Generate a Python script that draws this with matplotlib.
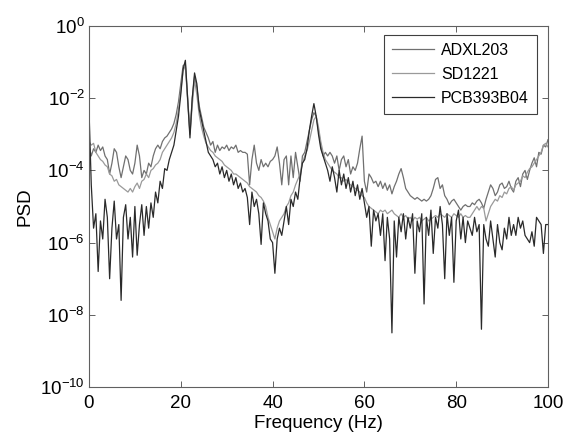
import numpy as np
import matplotlib
matplotlib.use("Agg")
import matplotlib.pyplot as plt
from matplotlib.ticker import NullLocator, FixedLocator

plt.rcParams['font.family'] = ['Liberation Sans', 'DejaVu Sans']
plt.rcParams['mathtext.fontset'] = 'custom'
plt.rcParams['mathtext.rm'] = 'Liberation Sans'
plt.rcParams['mathtext.it'] = 'Liberation Sans'

# Frequency grid (Hz), 0.5 Hz resolution
freq = np.arange(0, 100.5, 0.5)

series_names = ["ADXL203", "SD1221", "PCB393B04"]

# PSD values, stored as log10(PSD)
adxl203_log10 = [
    -3.3, -3.6, -3.4, -3.5, -3.3, -3.45, -3.35, -3.6, -3.7, -4.1,      # 0-4.5
    -3.8, -3.4, -3.5, -3.9, -4.2, -3.9, -3.6, -3.7, -4.0, -4.1,        # 5-9.5
    -3.8, -3.3, -3.6, -4.2, -4.0, -4.1, -3.8, -3.9, -3.6, -3.4,        # 10-14.5
    -3.3, -3.4, -3.2, -3.1, -3.05, -2.95, -2.85, -2.7, -2.45, -2.1,    # 15-19.5
    -1.6, -1.1, -1.05, -2.0, -2.95, -2.0, -1.4, -1.7, -2.2, -2.5,      # 20-24.5
    -2.8, -2.95, -3.1, -3.3, -3.2, -3.5, -3.3, -3.45, -3.35, -3.4,     # 25-29.5
    -3.3, -3.45, -3.35, -3.4, -3.3, -3.5, -3.45, -3.5, -3.5, -3.55,    # 30-34.5
    -4.4, -3.7, -3.3, -3.8, -4.0, -3.7, -3.9, -3.8, -3.9, -3.75,       # 35-39.5
    -3.7, -3.6, -3.35, -3.8, -4.4, -3.7, -3.6, -4.4, -3.6, -4.2,       # 40-44.5
    -3.5, -3.9, -4.3, -3.6, -3.5, -3.2, -2.9, -2.6, -2.4, -2.5,        # 45-49.5
    -2.9, -3.3, -3.6, -3.5, -3.6, -3.5, -3.6, -3.8, -3.6, -4.0,        # 50-54.5
    -3.7, -3.6, -3.9, -3.7, -4.1, -3.9, -4.0, -3.8, -3.4, -3.05,       # 55-59.5
    -4.3, -4.6, -4.1, -4.2, -4.35, -4.3, -4.45, -4.3, -4.5, -4.35,     # 60-64.5
    -4.55, -4.4, -4.65, -4.45, -4.3, -4.1, -3.95, -4.2, -4.5, -4.6,    # 65-69.5
    -4.7, -4.75, -4.8, -4.75, -4.8, -4.85, -4.8, -4.85, -4.8, -4.7,    # 70-74.5
    -4.5, -4.25, -4.2, -4.5, -4.4, -4.7, -4.8, -4.95, -4.85, -4.8,     # 75-79.5
    -4.9, -5.0, -5.1, -5.0, -4.95, -5.0, -5.0, -4.9, -4.95, -4.85,     # 80-84.5
    -4.8, -4.9, -5.05, -4.8, -4.6, -4.4, -4.5, -4.7, -4.6, -4.4,       # 85-89.5
    -4.35, -4.5, -4.45, -4.3, -4.5, -4.6, -4.3, -4.2, -4.45, -4.1,     # 90-94.5
    -4.0, -4.25, -4.0, -3.8, -3.65, -3.9, -3.5, -3.55, -3.3, -3.35,    # 95-99.5
    -3.15,                                                            # 100
]

sd1221_log10 = [
    -3.2, -3.3, -3.25, -3.5, -3.6, -3.7, -3.75, -3.85, -3.9, -4.1,     # 0-4.5
    -4.15, -4.3, -4.25, -4.4, -4.45, -4.5, -4.55, -4.6, -4.5, -4.6,    # 5-9.5
    -4.45, -4.35, -4.5, -4.3, -4.25, -4.1, -4.2, -4.0, -3.95, -3.85,   # 10-14.5
    -3.8, -3.7, -3.5, -3.4, -3.3, -3.2, -3.1, -2.95, -2.7, -2.3,       # 15-19.5
    -1.8, -1.25, -1.1, -2.1, -3.0, -2.2, -1.5, -1.9, -2.45, -2.8,      # 20-24.5
    -3.05, -3.25, -3.35, -3.45, -3.5, -3.6, -3.65, -3.7, -3.75, -3.85, # 25-29.5
    -3.9, -3.95, -4.0, -4.1, -4.1, -4.15, -4.2, -4.25, -4.3, -4.35,    # 30-34.5
    -4.45, -4.5, -4.55, -4.6, -4.7, -4.75, -4.85, -5.0, -5.3, -5.5,    # 35-39.5
    -5.7, -5.9, -5.6, -5.4, -5.3, -5.2, -5.0, -4.9, -4.7, -4.6,        # 40-44.5
    -4.4, -4.25, -4.1, -3.8, -3.6, -3.45, -3.2, -2.9, -2.6, -2.5,      # 45-49.5
    -2.8, -3.2, -3.5, -3.7, -3.8, -3.9, -4.0, -4.05, -4.1, -4.2,       # 50-54.5
    -4.2, -4.3, -4.25, -4.35, -4.4, -4.45, -4.5, -4.55, -4.6, -4.7,    # 55-59.5
    -4.75, -4.9, -5.0, -5.05, -5.1, -5.15, -5.2, -5.1, -5.15, -5.1,    # 60-64.5
    -5.2, -5.15, -5.1, -5.2, -5.25, -5.3, -5.2, -5.3, -5.25, -5.35,    # 65-69.5
    -5.3, -5.4, -5.3, -5.35, -5.3, -5.4, -5.35, -5.3, -5.4, -5.35,     # 70-74.5
    -5.3, -5.25, -5.3, -5.2, -5.25, -5.3, -5.2, -5.25, -5.3, -5.2,     # 75-79.5
    -5.25, -5.3, -5.2, -5.3, -5.25, -5.3, -5.3, -5.2, -5.1, -5.0,      # 80-84.5
    -5.1, -5.0, -5.05, -5.4, -5.2, -5.0, -4.9, -4.8, -4.85, -4.7,      # 85-89.5
    -4.75, -4.6, -4.65, -4.5, -4.45, -4.55, -4.4, -4.35, -4.3, -4.15,  # 90-94.5
    -4.2, -4.05, -3.95, -3.9, -3.8, -3.7, -3.6, -3.5, -3.3, -3.25,     # 95-99.5
    -3.35,                                                            # 100
]

pcb393b04_log10 = [
    -2.3, -4.4, -5.6, -5.2, -6.8, -5.4, -5.9, -4.8, -5.3, -7.0,        # 0-4.5
    -5.6, -4.85, -5.9, -5.5, -7.6, -5.3, -4.95, -5.9, -5.3, -6.4,      # 5-9.5
    -5.0, -6.35, -5.5, -4.95, -5.8, -5.0, -5.6, -4.9, -5.3, -4.6,      # 10-14.5
    -4.9, -4.3, -4.5, -3.95, -4.0, -3.7, -3.5, -3.3, -2.9, -2.5,       # 15-19.5
    -1.9, -1.2, -0.95, -2.0, -3.1, -2.0, -1.3, -1.6, -2.3, -2.6,       # 20-24.5
    -2.9, -3.2, -3.5, -3.6, -3.7, -3.9, -3.8, -4.1, -3.9, -4.2,        # 25-29.5
    -4.0, -4.3, -4.1, -4.4, -4.2, -4.5, -4.35, -4.6, -4.5, -4.75,      # 30-34.5
    -5.5, -4.6, -5.0, -4.8, -5.2, -6.05, -4.9, -5.2, -5.4, -5.9,       # 35-39.5
    -6.0, -6.85, -5.9, -5.6, -5.8, -5.4, -5.0, -5.5, -4.8, -5.0,       # 40-44.5
    -4.6, -4.8, -4.2, -3.8, -3.7, -3.4, -2.9, -2.5, -2.15, -2.5,       # 45-49.5
    -3.0, -3.4, -3.6, -3.8, -4.0, -4.3, -3.9, -4.2, -4.6, -4.0,        # 50-54.5
    -4.4, -4.1, -4.5, -4.2, -4.6, -4.3, -4.7, -4.4, -4.8, -4.5,        # 55-59.5
    -4.9, -5.3, -5.0, -6.1, -5.1, -5.4, -5.2, -5.8, -5.2, -6.5,        # 60-64.5
    -5.3, -5.9, -8.5, -5.4, -6.4, -5.3, -5.7, -5.2, -5.9, -5.3,        # 65-69.5
    -5.6, -5.2, -6.85, -5.4, -5.7, -5.2, -7.7, -5.3, -5.8, -5.1,       # 70-74.5
    -6.3, -5.3, -5.6, -5.0, -5.5, -7.0, -5.2, -5.8, -5.3, -7.1,        # 75-79.5
    -5.4, -5.1, -5.9, -5.3, -6.0, -5.4, -5.6, -5.8, -5.3, -5.7,        # 80-84.5
    -5.5, -8.4, -5.5, -5.9, -6.1, -5.4, -5.9, -6.4, -5.5, -6.0,        # 85-89.5
    -6.2, -5.6, -5.9, -5.3, -5.8, -5.5, -5.8, -5.3, -5.6, -5.4,        # 90-94.5
    -5.8, -5.9, -6.0, -5.7, -6.1, -5.3, -5.4, -5.5, -6.3, -5.5,        # 95-99.5
    -5.5,                                                             # 100
]

series_log10 = [adxl203_log10, sd1221_log10, pcb393b04_log10]
line_colors = ["#707070", "#9a9a9a", "#2a2a2a"]

x_ticks = [0, 20, 40, 60, 80, 100]
y_ticks = [1e0, 1e-2, 1e-4, 1e-6, 1e-8, 1e-10]

fig = plt.figure(figsize=(5.70, 4.37), dpi=100)
ax = fig.add_axes([0.1561, 0.1144, 0.8053, 0.8261])

for name, vals, col in zip(series_names, series_log10, line_colors):
    psd = 10.0 ** np.asarray(vals)
    ax.semilogy(freq, psd, color=col, linewidth=0.9, label=name)

ax.set_xlim(0, 100)
ax.set_ylim(1e-10, 1e0)
ax.xaxis.set_major_locator(FixedLocator(x_ticks))
ax.yaxis.set_major_locator(FixedLocator(y_ticks))
ax.yaxis.set_minor_locator(NullLocator())
ax.xaxis.set_minor_locator(NullLocator())

ax.tick_params(axis='both', which='major', direction='in', length=4,
               width=0.7, color='#606060', top=True, right=True,
               labelsize=13.5)
ax.tick_params(axis='x', pad=6)
ax.tick_params(axis='y', pad=3)

for sp in ax.spines.values():
    sp.set_color('#606060')
    sp.set_linewidth(0.8)

ax.set_xlabel("Frequency (Hz)", fontsize=13.5, labelpad=2)
ax.set_ylabel("PSD", fontsize=13.5, labelpad=5)

leg = ax.legend(loc='upper right', bbox_to_anchor=(0.976, 0.975),
                borderaxespad=0, fancybox=False, framealpha=1,
                edgecolor='#404040', fontsize=11.5, handlelength=2.6,
                handletextpad=0.45, labelspacing=0.55, borderpad=0.5)
leg.get_frame().set_linewidth(0.8)

fig.savefig("out.png", dpi=100)
